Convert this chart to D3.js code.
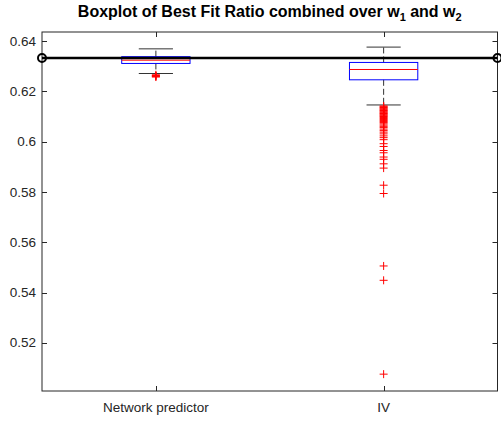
<!DOCTYPE html>
<html>
<head>
<meta charset="utf-8">
<script src="https://cdn.jsdelivr.net/npm/d3@7"></script>
<style>
  body { margin: 0; background: #fff; }
  text { font-family: "Liberation Sans", Arial, sans-serif; fill: #262626; }
</style>
</head>
<body>
<script>
// data
const categories = ["Network predictor", "IV"];
const upperWhisker = [0.6369, 0.6376];
const q3 = [0.6338, 0.6315];
const medians = [0.6324, 0.6287];
const q1 = [0.6311, 0.6246];
const lowerWhisker = [0.6271, 0.6146];
const outliersNet = [0.6266, 0.6263, 0.6261, 0.6259, 0.6257];
const outliersIV = [
  0.6142, 0.6139, 0.6136, 0.6133, 0.6130, 0.6127, 0.6124, 0.6121, 0.6118, 0.6115,
  0.6112, 0.6109, 0.6106, 0.6103, 0.6100, 0.6096, 0.6092, 0.6088, 0.6084, 0.6080,
  0.6076, 0.6071, 0.6066, 0.6061, 0.6056, 0.6050, 0.6044, 0.6038, 0.6031, 0.6023,
  0.6016, 0.6008, 0.5992, 0.5981, 0.5965, 0.5956, 0.5939, 0.5930, 0.5912, 0.5895,
  0.5827, 0.5794, 0.5506, 0.5449, 0.5076
];
const outliers = [outliersNet, outliersIV];
const refLine = 0.6333;
const yTicks = [0.52, 0.54, 0.56, 0.58, 0.6, 0.62, 0.64];

const width = 501, height = 421;
const plot = {left: 42, right: 497.5, top: 32, bottom: 391};

const svg = d3.select("body").append("svg")
  .attr("width", width)
  .attr("height", height);

const x = d3.scaleLinear().domain([0.5, 2.5]).range([plot.left, plot.right]);
const y = d3.scaleLinear().domain([0.5009, 0.6436]).range([plot.bottom, plot.top]);

const boxHalf = 0.15, capHalf = 0.075;
const axisColor = "#262626";

// axes box
svg.append("rect")
  .attr("x", plot.left).attr("y", plot.top)
  .attr("width", plot.right - plot.left).attr("height", plot.bottom - plot.top)
  .attr("fill", "none").attr("stroke", axisColor).attr("stroke-width", 1);

const tickLen = 5;
// y ticks, left and right, pointing inward
yTicks.forEach(t => {
  const yy = Math.round(y(t)) + 0.5;
  svg.append("line").attr("x1", plot.left).attr("x2", plot.left + tickLen)
    .attr("y1", yy).attr("y2", yy).attr("stroke", axisColor);
  svg.append("line").attr("x1", plot.right).attr("x2", plot.right - tickLen)
    .attr("y1", yy).attr("y2", yy).attr("stroke", axisColor);
  svg.append("text")
    .attr("x", plot.left - 6).attr("y", y(t))
    .attr("text-anchor", "end").attr("dominant-baseline", "central")
    .style("font-size", "13.5px")
    .text(d3.format(".2~f")(t));
});

// x ticks, top and bottom
categories.forEach((c, i) => {
  const xx = Math.round(x(i + 1)) + 0.5;
  svg.append("line").attr("x1", xx).attr("x2", xx)
    .attr("y1", plot.bottom).attr("y2", plot.bottom - tickLen).attr("stroke", axisColor);
  svg.append("line").attr("x1", xx).attr("x2", xx)
    .attr("y1", plot.top).attr("y2", plot.top + tickLen).attr("stroke", axisColor);
  svg.append("text")
    .attr("x", x(i + 1)).attr("y", 412)
    .attr("text-anchor", "middle")
    .style("font-size", "13.5px")
    .text(c);
});

// boxes
const g = svg.append("g");
categories.forEach((c, i) => {
  const cx = i + 1;
  const xm = x(cx);
  // whiskers (dashed)
  g.append("line").attr("x1", xm).attr("x2", xm)
    .attr("y1", y(q3[i])).attr("y2", y(upperWhisker[i]))
    .attr("stroke", "#333").attr("stroke-dasharray", "6,3");
  g.append("line").attr("x1", xm).attr("x2", xm)
    .attr("y1", y(q1[i])).attr("y2", y(lowerWhisker[i]))
    .attr("stroke", "#333").attr("stroke-dasharray", "6,3");
  // caps
  [upperWhisker[i], lowerWhisker[i]].forEach(v => {
    g.append("line").attr("x1", x(cx - capHalf)).attr("x2", x(cx + capHalf))
      .attr("y1", y(v)).attr("y2", y(v)).attr("stroke", "#333");
  });
  // box
  g.append("rect")
    .attr("x", x(cx - boxHalf)).attr("y", y(q3[i]))
    .attr("width", x(cx + boxHalf) - x(cx - boxHalf))
    .attr("height", y(q1[i]) - y(q3[i]))
    .attr("fill", "none").attr("stroke", "#0000ff");
  // median
  g.append("line").attr("x1", x(cx - boxHalf)).attr("x2", x(cx + boxHalf))
    .attr("y1", y(medians[i])).attr("y2", y(medians[i]))
    .attr("stroke", "#ff0000");
  // outliers as red plus signs
  g.selectAll(null).data(outliers[i]).join("path")
    .attr("d", d => {
      const px = xm, py = y(d), s = 4;
      return `M${px - s},${py}H${px + s}M${px},${py - s}V${py + s}`;
    })
    .attr("stroke", "#ff0000").attr("fill", "none");
});

// reference line with circle markers
svg.append("line")
  .attr("x1", x(0.5)).attr("x2", x(2.5))
  .attr("y1", y(refLine)).attr("y2", y(refLine))
  .attr("stroke", "#000").attr("stroke-width", 2.5);
[0.5, 2.5].forEach(v => {
  svg.append("circle")
    .attr("cx", x(v)).attr("cy", y(refLine)).attr("r", 4)
    .attr("fill", "none").attr("stroke", "#000").attr("stroke-width", 2);
});

// title
const title = svg.append("text")
  .attr("x", (plot.left + plot.right) / 2).attr("y", 17)
  .attr("text-anchor", "middle")
  .style("font-size", "16px").style("font-weight", "bold")
  .style("fill", "#000");
title.append("tspan").text("Boxplot of Best Fit Ratio combined over w");
title.append("tspan").attr("dy", 4).style("font-size", "11px").text("1");
title.append("tspan").attr("dy", -4).text(" and w");
title.append("tspan").attr("dy", 4).style("font-size", "11px").text("2");
</script>
</body>
</html>
